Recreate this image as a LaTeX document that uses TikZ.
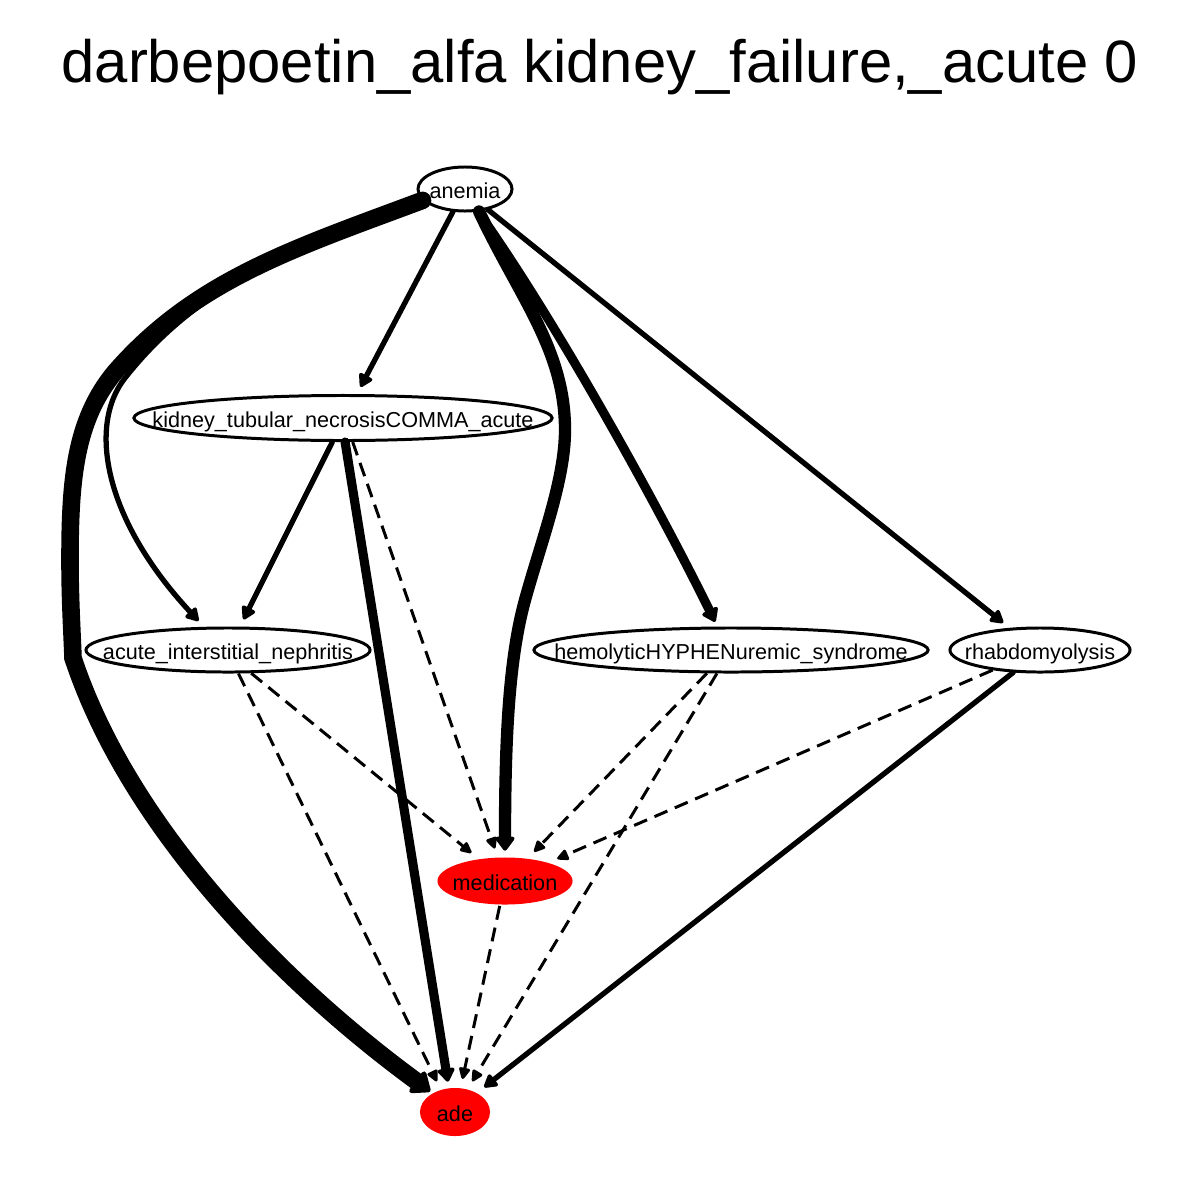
\documentclass[tikz,border=0pt]{standalone}
\usepackage{fontspec}
\setmainfont{Liberation Sans}
\usepackage{tikz}
\usetikzlibrary{arrows.meta}
\usetikzlibrary{shapes.geometric}

% label sits on the ellipse without widening it
\newcommand{\vlabel}[1]{\makebox[0pt]{#1}}

\begin{document}
\begin{tikzpicture}[
    x=0.01cm, y=-0.01cm,
    var/.style={
      ellipse,
      draw=black,
      line width=0.85pt,
      inner sep=0pt,
      font=\fontsize{6.15}{7}\selectfont,
      text height=0.64em,
      text depth=0.11em,
      minimum height=0.44cm
    },
    outcome/.style={
      var,
      draw=none,
      fill=red,
      minimum height=0.47cm
    },
    wire/.style={
      line width=1.5pt,
      line cap=round,
      shorten >=2.3pt,
      -{Triangle[round, length=4.2pt, width=4.6pt]}
    },
    wire3/.style={
      line width=2.6pt,
      line cap=round,
      shorten >=1.5pt,
      -{Triangle[round, length=4.2pt, width=5.5pt]}
    },
    wire4/.style={
      line width=3.5pt,
      line cap=round,
      shorten >=1.5pt,
      -{Triangle[round, length=4.4pt, width=6.2pt]}
    },
    wire5/.style={
      line width=5pt,
      line cap=round,
      shorten >=0.5pt,
      -{Triangle[round, length=5.5pt, width=8.5pt]}
    },
    dwire/.style={
      line width=0.85pt,
      dash pattern=on 4pt off 2.3pt,
      shorten >=2.3pt,
      -{Triangle[round, length=3.8pt, width=3.4pt]}
    }
  ]
  \useasboundingbox (0,0) rectangle (1200,1200);

  \node[font=\fontsize{17}{20}\selectfont, anchor=base] (title) at (600,82)
    {darbepoetin\_alfa kidney\_failure,\_acute 0};

  \node[var, minimum width=0.94cm] (anemia) at (465,189) {\vlabel{anemia}};
  \node[var, minimum width=4.18cm, minimum height=0.45cm] (ktn) at (343,418)
    {\vlabel{kidney\_tubular\_necrosisCOMMA\_acute}};
  \node[var, minimum width=2.84cm] (ain) at (228,650)
    {\vlabel{acute\_interstitial\_nephritis}};
  \node[var, minimum width=3.94cm] (hus) at (731,650)
    {\vlabel{hemolyticHYPHENuremic\_syndrome}};
  \node[var, minimum width=1.80cm] (rhabdo) at (1040,650) {\vlabel{rhabdomyolysis}};
  \node[outcome, minimum width=1.35cm] (med) at (505,881) {\vlabel{medication}};
  \node[outcome, minimum width=0.70cm, minimum height=0.48cm] (ade) at (455,1112)
    {\vlabel{ade}};

  % from anemia
  \draw[wire5] (anemia.195) .. controls (295,248) and (195,280) .. (115,372)
    .. controls (75,420) and (70,480) .. (70,560)
    .. controls (70,600) and (72,630) .. (73,658)
    .. controls (130,830) and (285,985) .. (ade.140);
  \draw[wire] (anemia.195) .. controls (295,248) and (200,283) .. (125,378)
    .. controls (88,425) and (103,518) .. (ain.136);
  \draw[wire4] (anemia.302) .. controls (520,298) and (565,350) .. (565,430)
    .. controls (565,480) and (541,542) .. (525,600)
    .. controls (509,658) and (505,738) .. (med.north);
  \draw[wire3] (anemia.300) .. controls (555,320) and (655,500) .. (hus.120);
  \draw[wire] (anemia.318) -- (rhabdo.144);
  \draw[wire] (anemia.242) -- (ktn.60);

  % second row
  \draw[wire] (ktn.246) -- (ain.63);
  \draw[wire3] (ktn.275) -- (ade.104);
  \draw[dwire] (ktn.292) -- (med.107);

  \draw[dwire] (ain.315) -- (med.140);
  \draw[dwire] (ain.294) -- (ade.122);
  \draw[dwire] (hus.224) -- (med.45);
  \draw[dwire] (hus.239) -- (ade.61);
  \draw[dwire] (rhabdo.203) -- (med.23);
  \draw[wire] (rhabdo.220) -- (ade.41);

  \draw[dwire] (med.258) -- (ade.77);

\end{tikzpicture}
\end{document}
